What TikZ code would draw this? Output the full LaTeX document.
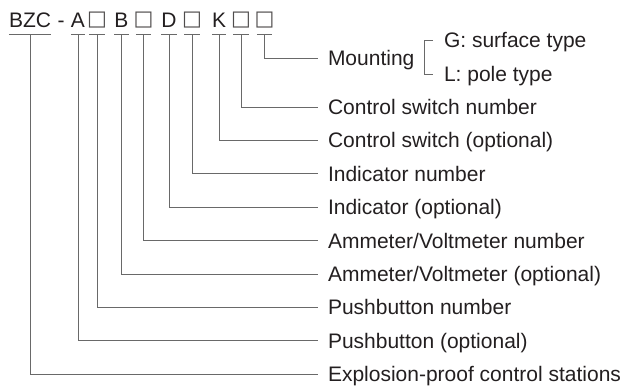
\documentclass[tikz,border=0pt]{standalone}
\usepackage{fontspec}
\setmainfont{Liberation Sans}
\newfontfamily\boxfont{DejaVu Sans}
\definecolor{txtcol}{RGB}{35,31,32}
\definecolor{leadcol}{RGB}{105,105,105}
\begin{document}
\begin{tikzpicture}[x = 1bp, y = -1bp,
  code/.style = {anchor = base, inner xsep = 0pt, inner ysep = 7bp, text depth = 0pt, text = txtcol, font = \fontsize{21bp}{25bp}\selectfont},
  slot/.style = {code, inner xsep = -2.5bp, inner ysep = 8.5bp, yshift = 1.5bp, text = txtcol!80, font = \boxfont\fontsize{21bp}{25bp}\selectfont},
  item/.style = {anchor = west, inner xsep = 0pt, inner ysep = 0pt, outer xsep = 10bp, text height = 15bp, text depth = 0pt, text = txtcol, font = \fontsize{21bp}{25bp}\selectfont},
  lead/.style = {draw = leadcol, line width = 1bp}]
\useasboundingbox (0, 0) rectangle (627, 387);
\node[code] (cBZC) at (30, 27) {BZC};
\node[code] (cHyph) at (61, 27) {-};
\node[code] (cA) at (78, 27) {A};
\node[slot] (cPBn) at (97, 27) {□};
\node[code] (cB) at (121.5, 27) {B};
\node[slot] (cAVn) at (143.5, 27) {□};
\node[code] (cD) at (169, 27) {D};
\node[slot] (cINn) at (192, 27) {□};
\node[code] (cK) at (219, 27) {K};
\node[slot] (cCSn) at (241, 27) {□};
\node[slot] (cMnt) at (264.5, 27) {□};
\node[item] (lMnt) at (318, 58) {Mounting};
\node[item, outer xsep = 11bp] (lG) at (433, 40) {G: surface type};
\node[item, outer xsep = 11bp] (lL) at (433, 74) {L: pole type};
\node[item] (lCSn) at (318, 107) {Control switch number};
\node[item] (lCSo) at (318, 140.4) {Control switch (optional)};
\node[item] (lINn) at (318, 173.8) {Indicator number};
\node[item] (lINo) at (318, 207.2) {Indicator (optional)};
\node[item] (lAVn) at (318, 240.6) {Ammeter/Voltmeter number};
\node[item] (lAVo) at (318, 274) {Ammeter/Voltmeter (optional)};
\node[item] (lPBn) at (318, 307.4) {Pushbutton number};
\node[item] (lPBo) at (318, 340.8) {Pushbutton (optional)};
\node[item] (lBZC) at (318, 374.2) {Explosion-proof control stations};
\draw[lead] (cBZC.south west) -- (cBZC.south east);
\draw[lead] (cA.south west) -- (cA.south east);
\draw[lead] (cPBn.south west) -- (cPBn.south east);
\draw[lead] (cB.south west) -- (cB.south east);
\draw[lead] (cAVn.south west) -- (cAVn.south east);
\draw[lead] (cD.south west) -- (cD.south east);
\draw[lead] (cINn.south west) -- (cINn.south east);
\draw[lead] (cK.south west) -- (cK.south east);
\draw[lead] (cCSn.south west) -- (cCSn.south east);
\draw[lead] (cMnt.south west) -- (cMnt.south east);
\draw[lead] (cMnt.south) |- (lMnt);
\draw[lead] (cCSn.south) |- (lCSn);
\draw[lead] (cK.south) |- (lCSo);
\draw[lead] (cINn.south) |- (lINn);
\draw[lead] (cD.south) |- (lINo);
\draw[lead] (cAVn.south) |- (lAVn);
\draw[lead] (cB.south) |- (lAVo);
\draw[lead] (cPBn.south) |- (lPBn);
\draw[lead] (cA.south) |- (lPBo);
\draw[lead] (cBZC.south) |- (lBZC);
\draw[lead] (lG.west) -- ++(-9, 0) |- (lL.west);
\end{tikzpicture}
\end{document}
